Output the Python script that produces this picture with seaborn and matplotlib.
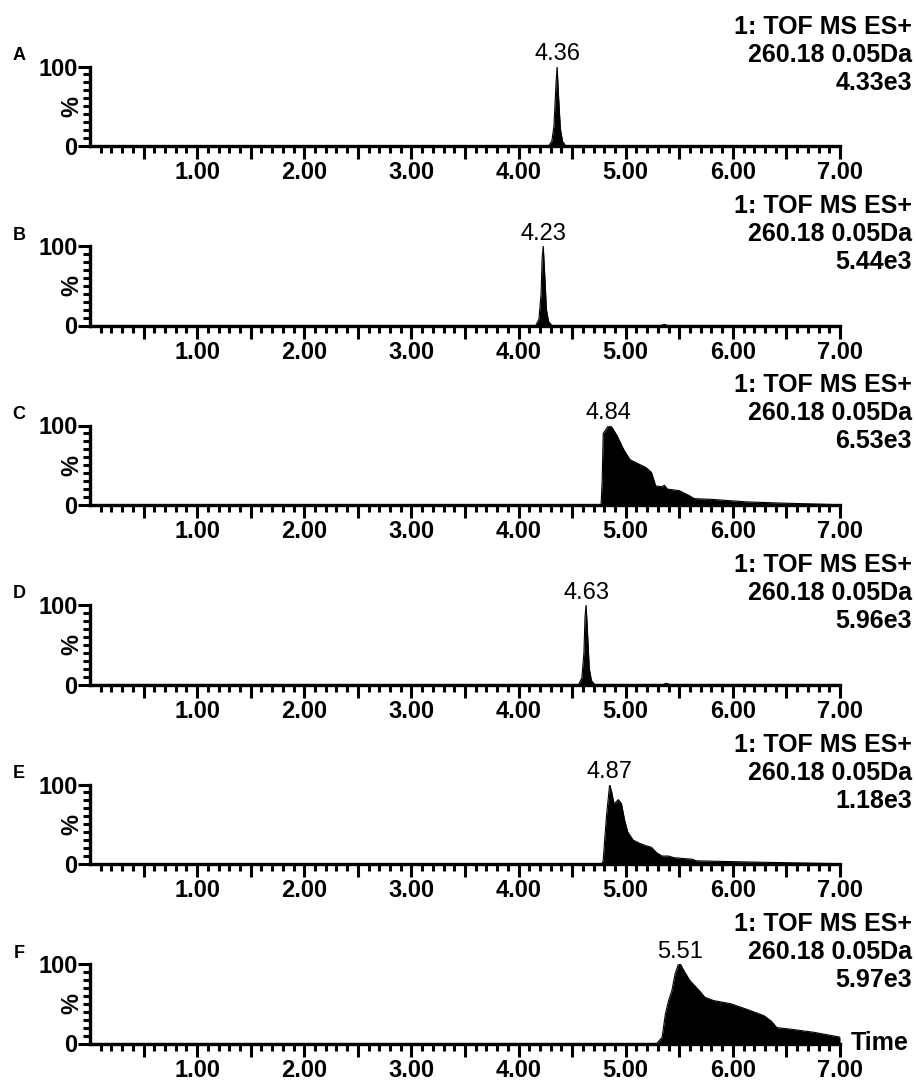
import pandas as pd
import matplotlib
matplotlib.use('Agg')
import matplotlib.pyplot as plt
import seaborn as sns
from matplotlib.ticker import FixedLocator, FuncFormatter

# chromatogram traces (time in min, intensity in %)
a_time = [0.00, 4.28, 4.31, 4.33, 4.35, 4.36, 4.37, 4.39, 4.41, 4.44, 7.00]
a_int = [0, 0, 6, 25, 80, 100, 70, 22, 6, 0, 0]

b_time = [0.00, 4.16, 4.19, 4.21, 4.22, 4.23, 4.24, 4.26, 4.28, 4.31, 5.33, 5.36, 5.39, 7.00]
b_int = [0, 0, 8, 40, 85, 100, 75, 20, 5, 0, 0, 1.5, 0, 0]

c_time = [0.00, 4.77, 4.78, 4.79, 4.84, 4.87, 4.92, 4.98, 5.04, 5.10, 5.19, 5.24, 5.28,
          5.34, 5.36, 5.39, 5.50, 5.59, 5.64, 5.81, 6.12, 6.43, 6.96, 7.00]
c_int = [0, 0, 30, 90, 100, 98, 87, 70, 57, 53, 47, 41, 24,
         23, 25, 20, 18, 12, 8, 7, 4, 2.5, 0.5, 0.5]

d_time = [0.00, 4.56, 4.59, 4.61, 4.62, 4.63, 4.64, 4.66, 4.68, 4.71, 5.35, 5.38, 5.41, 7.00]
d_int = [0, 0, 8, 40, 85, 100, 75, 20, 5, 0, 0, 1.5, 0, 0]

e_time = [0.00, 4.78, 4.79, 4.82, 4.85, 4.87, 4.89, 4.91, 4.93, 4.96, 4.99, 5.02, 5.07, 5.13,
          5.19, 5.24, 5.29, 5.34, 5.40, 5.45, 5.53, 5.62, 5.66, 5.99, 6.46, 6.99, 7.00]
e_int = [0, 0, 5, 60, 100, 90, 76, 78, 81, 76, 55, 40, 30, 26,
         23, 21, 14, 10, 10, 8, 7, 6, 4, 3, 1.7, 0.4, 0.4]

f_time = [0.00, 5.29, 5.34, 5.37, 5.40, 5.43, 5.46, 5.49, 5.51, 5.55, 5.60, 5.69, 5.74,
          5.82, 5.98, 6.13, 6.29, 6.36, 6.41, 6.54, 6.76, 7.00]
f_int = [0, 0, 8, 37, 54, 66, 87, 99, 100, 90, 79, 66, 58,
         54, 50, 43, 35, 28, 20, 18, 14, 8]

panel_letters = ['A', 'B', 'C', 'D', 'E', 'F']
peak_labels = ['4.36', '4.23', '4.84', '4.63', '4.87', '5.51']
scale_labels = ['4.33e3', '5.44e3', '6.53e3', '5.96e3', '1.18e3', '5.97e3']
header_line1 = '1: TOF MS ES+'
header_line2 = '260.18 0.05Da'
x_tick_labels = ['1.00', '2.00', '3.00', '4.00', '5.00', '6.00', '7.00']

traces = [(a_time, a_int), (b_time, b_int), (c_time, c_int),
          (d_time, d_int), (e_time, e_int), (f_time, f_int)]

sns.set_style('ticks')
plt.rcParams['font.family'] = ['Liberation Sans', 'DejaVu Sans']
plt.rcParams['font.weight'] = 'bold'
plt.rcParams['text.color'] = 'black'
plt.rcParams['xtick.color'] = 'black'
plt.rcParams['ytick.color'] = 'black'
plt.rcParams['axes.edgecolor'] = 'black'

W, H = 916, 1083
fig = plt.figure(figsize=(W / 100, H / 100), dpi=100)

left_px, width_px = 90, 750
top0, step, height_px = 66.5, 179.5, 79.5
fs_tick = 17
fs_head = 18
fs_peak = 17

for i, (t, v) in enumerate(traces):
    top = top0 + step * i
    ax = fig.add_axes([left_px / W, 1 - (top + height_px) / H, width_px / W, height_px / H])
    df = pd.DataFrame({'Time': t, 'Intensity': v})
    sns.lineplot(data=df, x='Time', y='Intensity', ax=ax, color='black', lw=0.8)
    ax.fill_between(df['Time'], df['Intensity'], color='black', lw=0)
    ax.set_xlim(0, 7)
    ax.set_ylim(0, 100)
    ax.set_xlabel('')
    ax.set_ylabel('')
    sns.despine(ax=ax)
    for sp in ['left', 'bottom']:
        ax.spines[sp].set_linewidth(2.4)

    majors = [k * 0.5 for k in range(1, 15)]
    minors = [k / 10 for k in range(1, 70) if k % 5 != 0]
    ax.xaxis.set_major_locator(FixedLocator(majors))
    ax.xaxis.set_minor_locator(FixedLocator(minors))
    ax.xaxis.set_major_formatter(FuncFormatter(
        lambda x, p: x_tick_labels[int(round(x)) - 1] if abs(x - round(x)) < 1e-6 else ''))
    ax.yaxis.set_major_locator(FixedLocator([0, 100]))
    ax.yaxis.set_minor_locator(FixedLocator(list(range(10, 100, 10))))
    ax.tick_params(axis='both', which='major', length=9, width=2.2, labelsize=fs_tick)
    ax.tick_params(axis='both', which='minor', length=5, width=2.2)
    ax.tick_params(axis='x', which='major', pad=2)
    ax.tick_params(axis='y', which='major', pad=0)
    for lab in ax.get_xticklabels() + ax.get_yticklabels():
        lab.set_fontweight('bold')

    ax.text(-18 / width_px, 0.5, '%', transform=ax.transAxes, rotation=90,
            ha='center', va='center', fontsize=fs_tick, fontweight='bold')

    # peak label at the apex
    imax = df['Intensity'].idxmax()
    ax.annotate(peak_labels[i], (df['Time'][imax], 100), xytext=(0, 1),
                textcoords='offset points', ha='center', va='bottom',
                fontsize=fs_peak, fontweight='normal', annotation_clip=False)

    # panel letter and header
    fig.text(19 / W, 1 - (top - 11) / H, panel_letters[i], ha='center', va='center',
             fontsize=13, fontweight='bold')
    for j, txt in enumerate([header_line1, header_line2, scale_labels[i]]):
        fig.text(912 / W, 1 - (top - 40 + 28 * j) / H, txt, ha='right', va='center',
                 fontsize=fs_head, fontweight='bold')

    if i == len(traces) - 1:
        ax.text(1 + 11 / width_px, 0, 'Time', transform=ax.transAxes,
                ha='left', va='center', fontsize=fs_head, fontweight='bold')

fig.savefig('out.png', dpi=100)
